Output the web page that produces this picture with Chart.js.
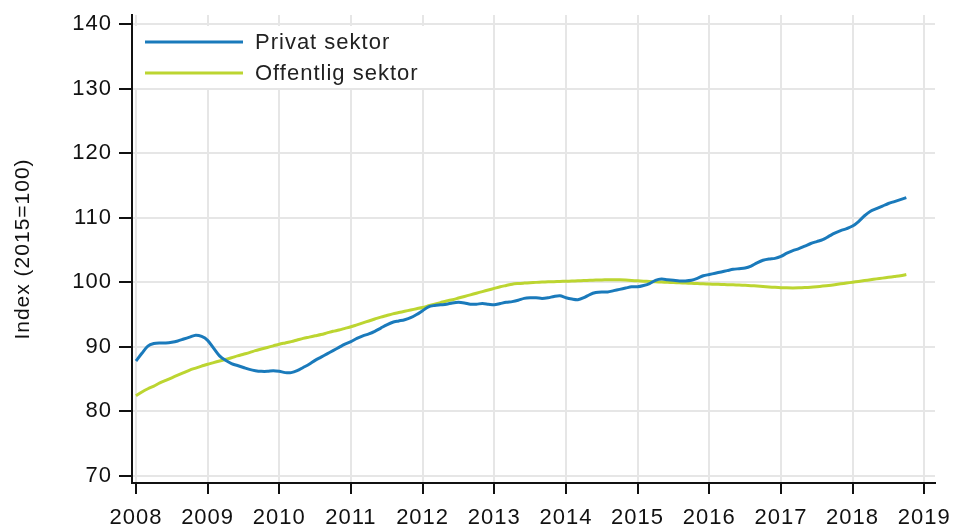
<!DOCTYPE html>
<html>
<head>
<meta charset="utf-8">
<script src="https://cdn.jsdelivr.net/npm/chart.js@4"></script>
<style>
  html, body { margin: 0; padding: 0; background: #fff; }
  #wrap { width: 955px; height: 529px; position: relative; }
</style>
</head>
<body>
<div id="wrap"><canvas id="c" width="955" height="529"></canvas></div>
<script>
// ---- Data (monthly, starting January 2008) ----
const startYear = 2008;
const seriesLabels = ["Privat sektor", "Offentlig sektor"];
const yAxisTitle = "Index (2015=100)";
const yTicks = [70, 80, 90, 100, 110, 120, 130, 140];
const xTicks = [2008, 2009, 2010, 2011, 2012, 2013, 2014, 2015, 2016, 2017, 2018, 2019];

const privat = [
  87.8, 89.0, 90.1, 90.5, 90.6, 90.6, 90.7, 90.9, 91.2, 91.5, 91.8, 91.6,
  91.0, 89.8, 88.6, 87.9, 87.4, 87.1, 86.8, 86.5, 86.3, 86.2, 86.2, 86.3,
  86.2, 86.0, 86.0, 86.3, 86.8, 87.3, 87.9, 88.4, 88.9, 89.4, 89.9, 90.4,
  90.8, 91.3, 91.7, 92.0, 92.4, 92.9, 93.4, 93.8, 94.0, 94.2, 94.5, 95.0,
  95.6, 96.2, 96.4, 96.5, 96.6, 96.8, 96.9, 96.8, 96.6, 96.6, 96.7, 96.6,
  96.5, 96.7, 96.9, 97.0, 97.2, 97.5, 97.6, 97.6, 97.5, 97.6, 97.8, 97.9,
  97.6, 97.4, 97.3, 97.6, 98.1, 98.4, 98.5, 98.5, 98.7, 98.9, 99.1, 99.3,
  99.3, 99.5, 99.8, 100.3, 100.5, 100.4, 100.3, 100.2, 100.2, 100.3, 100.6, 101.0,
  101.2, 101.4, 101.6, 101.8, 102.0, 102.1, 102.2, 102.5, 103.0, 103.4, 103.6, 103.7,
  104.0, 104.5, 104.9, 105.2, 105.6, 106.0, 106.3, 106.6, 107.1, 107.6, 108.0, 108.3,
  108.7, 109.4, 110.3, 111.0, 111.4, 111.8, 112.2, 112.5, 112.8, 113.1
];

const offentlig = [
  82.4, 83.0, 83.5, 83.9, 84.4, 84.8, 85.2, 85.6, 86.0, 86.4, 86.7, 87.0,
  87.3, 87.55, 87.8, 88.05, 88.3, 88.6, 88.85, 89.1, 89.4, 89.65, 89.9, 90.15,
  90.4, 90.6, 90.8, 91.05, 91.3, 91.5, 91.7, 91.9, 92.15, 92.4, 92.6, 92.85,
  93.1, 93.4, 93.7, 94.0, 94.3, 94.6, 94.85, 95.1, 95.3, 95.5, 95.7, 95.9,
  96.1, 96.35, 96.6, 96.85, 97.1, 97.3, 97.55, 97.8, 98.05, 98.3, 98.55, 98.8,
  99.05, 99.3, 99.5, 99.7, 99.8, 99.87, 99.93, 99.98, 100.02, 100.06, 100.09, 100.12,
  100.15, 100.18, 100.22, 100.26, 100.3, 100.33, 100.36, 100.38, 100.39, 100.37, 100.33, 100.28,
  100.22, 100.17, 100.12, 100.07, 100.03, 99.99, 99.95, 99.91, 99.87, 99.83, 99.79, 99.75,
  99.72, 99.69, 99.66, 99.63, 99.6, 99.56, 99.52, 99.47, 99.41, 99.34, 99.27, 99.21,
  99.16, 99.13, 99.12, 99.13, 99.17, 99.23, 99.31, 99.4, 99.5, 99.62, 99.75, 99.88,
  100.0, 100.13, 100.26, 100.39, 100.52, 100.64, 100.76, 100.88, 101.0, 101.2
];

const colors = ["#1a7abb", "#bcd531"];
// ----------------------------------------------

const toPoints = arr => arr.map((v, i) => ({ x: startYear + i / 12, y: v }));

const FONT = "'Liberation Sans', Arial, sans-serif";

const spacingPlugin = {
  id: 'spacing',
  beforeDraw(chart) { chart.ctx.letterSpacing = '1px'; }
};

const legendPlugin = {
  id: 'insideLegend',
  beforeDatasetsDraw(chart) {
    const ctx = chart.ctx;
    ctx.save();
    ctx.fillStyle = '#ffffff';
    ctx.fillRect(135, 26, 290, 62);
    ctx.restore();
  },
  afterDatasetsDraw(chart) {
    const ctx = chart.ctx;
    ctx.save();
    ctx.letterSpacing = '1px';
    const rows = [42, 73];
    chart.data.datasets.forEach((ds, i) => {
      const y = rows[i];
      ctx.strokeStyle = ds.borderColor;
      ctx.lineWidth = 3;
      ctx.beginPath();
      ctx.moveTo(145, y);
      ctx.lineTo(243, y);
      ctx.stroke();
      ctx.fillStyle = '#222';
      ctx.font = "22px " + FONT;
      ctx.textBaseline = 'middle';
      ctx.textAlign = 'left';
      ctx.fillText(ds.label, 255, y + 1);
    });
    ctx.restore();
  }
};

new Chart(document.getElementById('c'), {
  type: 'line',
  data: {
    datasets: [
      { label: seriesLabels[0], data: toPoints(privat), borderColor: colors[0], backgroundColor: colors[0],
        borderWidth: 3, pointRadius: 0, tension: 0.3 },
      { label: seriesLabels[1], data: toPoints(offentlig), borderColor: colors[1], backgroundColor: colors[1],
        borderWidth: 3, pointRadius: 0, tension: 0.3 }
    ]
  },
  options: {
    responsive: false,
    animation: false,
    devicePixelRatio: 1,
    layout: { padding: { top: 15, right: 20, left: 0, bottom: 0 } },
    plugins: {
      legend: { display: false },
      tooltip: { enabled: false }
    },
    scales: {
      x: {
        type: 'linear',
        min: 2007.945,
        max: 2019.15,
        afterBuildTicks: axis => { axis.ticks = xTicks.map(v => ({ value: v })); },
        afterFit: axis => { axis.height = 46; axis.paddingLeft = 0; axis.paddingRight = 0; },
        ticks: {
          color: '#111',
          font: { family: FONT, size: 22 },
          padding: 11,
          maxRotation: 0,
          autoSkip: false,
          callback: v => String(v)
        },
        grid: { color: '#e6e6e6', lineWidth: 2, tickColor: '#111', tickWidth: 2, tickLength: 11 },
        border: { color: '#111', width: 2 }
      },
      y: {
        min: 68.9,
        max: 141.4,
        afterBuildTicks: axis => { axis.ticks = yTicks.map(v => ({ value: v })); },
        afterFit: axis => { axis.width = 132; axis.paddingTop = 0; axis.paddingBottom = 0; },
        ticks: {
          color: '#111',
          font: { family: FONT, size: 22 },
          padding: 7,
          callback: v => String(v)
        },
        grid: { color: '#e6e6e6', lineWidth: 2, tickColor: '#111', tickWidth: 2, tickLength: 13 },
        border: { color: '#111', width: 2 },
        title: {
          display: true,
          text: yAxisTitle,
          color: '#111',
          font: { family: FONT, size: 21 },
          padding: { top: 11, bottom: 0 }
        }
      }
    }
  },
  plugins: [spacingPlugin, legendPlugin]
});
</script>
</body>
</html>
